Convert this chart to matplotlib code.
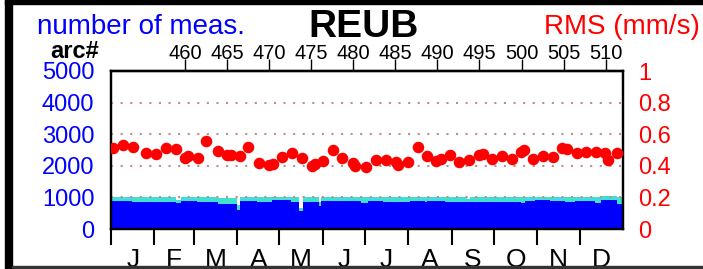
import numpy as np
import matplotlib
matplotlib.use("Agg")
import matplotlib.pyplot as plt
from matplotlib.patches import Rectangle

plt.rcParams['font.family'] = ['Liberation Sans', 'DejaVu Sans']

# --- data ---
station = "REUB"
month_labels = ["J", "F", "M", "A", "M", "J", "J", "A", "S", "O", "N", "D"]
month_days = [31, 28, 31, 30, 31, 30, 31, 31, 30, 31, 30, 31]
arc_ticks = [460, 465, 470, 475, 480, 485, 490, 495, 500, 505, 510]

# number of measurements, piecewise per day-of-year segment
seg_start = [0, 15, 30, 46, 50, 61, 76, 90, 92, 104, 115, 128, 134, 137, 148, 150,
             163, 178, 183, 194, 213, 224, 225, 238, 254, 256, 267, 277, 292, 295,
             302, 313, 324, 331, 345, 349, 361]
meas_used = [895, 864, 850, 813, 875, 854, 785, 600, 895, 864, 907, 864, 580, 845,
             738, 886, 880, 833, 895, 864, 895, 845, 895, 864, 845, 864, 864, 845,
             813, 886, 917, 875, 845, 875, 824, 927, 801]
meas_total = [1000, 1000, 1000, 930, 1000, 1000, 975, 760, 1000, 1000, 1000, 1000,
              654, 1000, 864, 1000, 1000, 1000, 1000, 1000, 1000, 1000, 1000, 1000,
              950, 1000, 1000, 1000, 1000, 1000, 1000, 1000, 1000, 1000, 1000, 1035, 1000]

# RMS per arc (mm/s)
rms_day = [1.4, 8.6, 15.7, 25, 32, 39, 46, 53, 55, 62, 68, 76, 83, 85.5, 92, 98,
           105.5, 112.6, 115.5, 122, 129, 136, 143, 145.4, 151, 158, 165, 172.5,
           174, 182, 189, 196, 203, 204.6, 211.7, 219, 225, 232, 235, 241.7, 248,
           255, 262, 265, 271.6, 278.7, 286, 292, 294.4, 301, 308, 315, 321.5, 325,
           332, 338.6, 345.8, 352, 354, 360.7]
rms_val = [0.511, 0.53, 0.52, 0.479, 0.473, 0.515, 0.506, 0.447, 0.46, 0.447, 0.559,
           0.494, 0.468, 0.468, 0.464, 0.517, 0.42, 0.405, 0.41, 0.458, 0.483, 0.447,
           0.399, 0.41, 0.43, 0.5, 0.447, 0.42, 0.40, 0.39, 0.437, 0.437, 0.426, 0.405,
           0.422, 0.521, 0.462, 0.43, 0.441, 0.468, 0.426, 0.437, 0.468, 0.473, 0.441,
           0.462, 0.441, 0.489, 0.5, 0.441, 0.462, 0.458, 0.511, 0.506, 0.483, 0.485,
           0.489, 0.483, 0.437, 0.479]

# arc number <-> day of year
arc0, day0, days_per_arc = 460, 52.7, 6.0

W, H = 703, 269
fig = plt.figure(figsize=(W / 100, H / 100), dpi=100)

# outer frame pieces
fig.patches.append(Rectangle((5 / W, 0), 7 / W, 1, transform=fig.transFigure,
                             color='black', zorder=0))
fig.patches.append(Rectangle((5 / W, 1 - 3.5 / H), 1, 3.5 / H, transform=fig.transFigure,
                             color='black', zorder=0))
fig.patches.append(Rectangle((12 / W, 1.5 / H), 1, 1.2 / H, transform=fig.transFigure,
                             color='#333333', zorder=0))

ax = fig.add_axes([111 / W, (H - 229) / H, 512 / W, 158 / H])

edges = seg_start + [365]
ax.fill_between(edges, meas_total + [meas_total[-1]], step='post',
                color='#40e0d0', lw=0, zorder=1)
ax.fill_between(edges, meas_used + [meas_used[-1]], step='post',
                color='#0000ff', lw=0, zorder=2)
for yv in [1000, 2000, 3000, 4000]:
    ax.axhline(yv, color='#bc8f8f', lw=1.5, ls=(0, (1, 3.6)), zorder=3)

ax.set_xlim(0, 365)
ax.set_ylim(0, 5000)
ax.set_yticks([0, 1000, 2000, 3000, 4000, 5000])
ax.tick_params(axis='y', length=0, pad=12, labelsize=17, labelcolor='#0000ff')

month_start = np.cumsum([0] + month_days[:-1])
month_mid = month_start + np.array(month_days) / 2
ax.set_xticks(month_start)
ax.set_xticklabels([])
ax.set_xticks(month_mid, minor=True)
ax.set_xticklabels(month_labels, minor=True)
ax.tick_params(axis='x', which='major', direction='out', length=11.5, width=1.5)
ax.tick_params(axis='x', which='minor', length=0, pad=14, labelsize=19)
for s in ax.spines.values():
    s.set_linewidth(1.6)

# right axis: RMS
ax2 = ax.twinx()
ax2.set_ylim(0, 1)
ax2.set_yticks([0, 0.2, 0.4, 0.6, 0.8, 1])
ax2.set_yticklabels(["0", "0.2", "0.4", "0.6", "0.8", "1"])
ax2.tick_params(axis='y', length=0, pad=11, labelsize=17, labelcolor='#ff0000')
ax2.plot(rms_day, rms_val, 'o', color='#ff0000', ms=7.3, mec='#ff0000', zorder=5)
for s in ax2.spines.values():
    s.set_linewidth(1.6)

# top axis: arc numbers
sec = ax.secondary_xaxis('top', functions=(lambda d: arc0 + (d - day0) / days_per_arc,
                                           lambda a: day0 + (a - arc0) * days_per_arc))
sec.set_xticks(arc_ticks)
sec.tick_params(axis='x', direction='out', length=9, width=1.0, pad=-3, labelsize=14.5)
sec.spines['top'].set_linewidth(1.6)

fig.text(37 / W, (H - 34) / H, "number of meas.", color='#0000ff', fontsize=20,
         ha='left', va='baseline')
fig.text(364 / W, (H - 37) / H, station, color='black', fontsize=28,
         fontweight='bold', ha='center', va='baseline')
fig.text(700 / W, (H - 34) / H, "RMS (mm/s)", color='#ff0000', fontsize=20,
         ha='right', va='baseline')
fig.text(75 / W, (H - 58) / H, "arc#", color='black', fontsize=17,
         fontweight='bold', ha='center', va='baseline')

fig.savefig("out.png", dpi=100)
